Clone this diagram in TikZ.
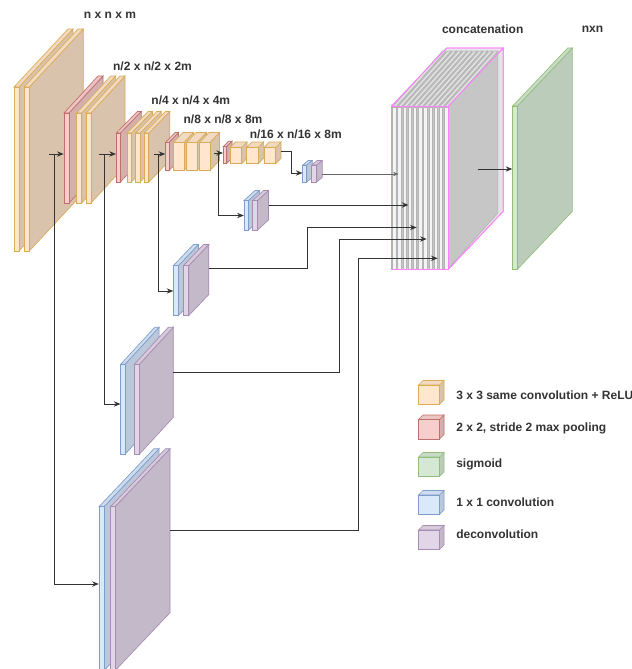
\documentclass[tikz,border=0pt]{standalone}
\usepackage{fontspec}
\setmainfont{Liberation Sans}
\usetikzlibrary{arrows.meta}
% colours
\definecolor{yfill}{HTML}{FFE6CC}\definecolor{yline}{HTML}{D9AC55}
\colorlet{yside}{yfill!85!black}\colorlet{ytop}{yfill!95!black}
\definecolor{rfill}{HTML}{F8CECC}\definecolor{rline}{HTML}{C0706C}
\colorlet{rside}{rfill!85!black}\colorlet{rtop}{rfill!95!black}
\definecolor{gfill}{HTML}{D5E8D4}\definecolor{gline}{HTML}{93BE7A}
\colorlet{gside}{gfill!88!black}\colorlet{gtop}{gfill!95!black}
\definecolor{bfill}{HTML}{DAE8FC}\definecolor{bline}{HTML}{7E9DCB}
\colorlet{bside}{bfill!86!black}\colorlet{btop}{bfill!95!black}
\definecolor{pfill}{HTML}{E1D5E7}\definecolor{pline}{HTML}{A68BB3}
\colorlet{pside}{pfill!87!black}\colorlet{ptop}{pfill!95!black}
\definecolor{sfill}{HTML}{F4F4F4}\definecolor{sline}{HTML}{B4B4B4}
\definecolor{sside}{HTML}{C6C6C6}\definecolor{stop}{HTML}{E2E2E2}
\definecolor{kfill}{HTML}{EDEDED}\definecolor{kline}{HTML}{FF7FFF}
\definecolor{kside}{HTML}{E4E4E4}\definecolor{ktop}{HTML}{E8E8E8}
\definecolor{txt}{HTML}{333333}
\definecolor{conncol}{HTML}{333333}
\tikzset{
  cubeline/.style={line width=0.5pt, line join=miter},
  conn/.style={draw=conncol, line width=0.75pt, -{Stealth[length=5pt,width=4pt]}},
  thinconn/.style={draw=conncol!75, line width=0.45pt, -{Stealth[length=4pt,width=3.2pt]}},
  lab/.style={font=\fontsize{9}{10}\selectfont\bfseries, text=txt, inner sep=0pt},
  legtext/.style={lab, anchor=west},
  pinkwire/.style={draw=kline, line width=0.6pt, line join=miter}
}
% cuboid: x y w h dx rise colourprefix (pixel units, y downwards)
\newcommand{\cub}[7]{%
  \filldraw[fill=#7side,draw=#7line,cubeline] (#1+#3,#2) -- (#1+#3+#5,#2-#6) -- (#1+#3+#5,#2-#6+#4) -- (#1+#3,#2+#4) -- cycle;
  \filldraw[fill=#7top,draw=#7line,cubeline] (#1,#2) -- (#1+#5,#2-#6) -- (#1+#3+#5,#2-#6) -- (#1+#3,#2) -- cycle;
  \filldraw[fill=#7fill,draw=#7line,cubeline] (#1,#2) rectangle (#1+#3,#2+#4);
}
\newcommand{\cubwire}[6]{%
  \draw[pinkwire] (#1,#2) rectangle (#1+#3,#2+#4);
  \draw[pinkwire] (#1,#2) -- (#1+#5,#2-#6) -- (#1+#3+#5,#2-#6) -- (#1+#3,#2);
  \draw[pinkwire] (#1+#3+#5,#2-#6) -- (#1+#3+#5,#2-#6+#4) -- (#1+#3,#2+#4);
}
\begin{document}
\begin{tikzpicture}[x=0.75pt,y=-0.75pt]
\useasboundingbox (0,0) rectangle (632,669);
\fill[white] (0,0) rectangle (632,669);

% ---- encoder stacks ----
% stack 1
\cub{14}{87}{5}{164}{54}{58}{y}
\cub{24}{87}{5.3}{164}{54}{58}{y}
% stack 2
\cub{64}{113}{5}{90}{34}{37}{r}
\cub{76.7}{113}{5}{90}{34}{37}{y}
\cub{86}{113}{5}{90}{34}{37}{y}
% stack 3
\cub{116.3}{133}{4}{49}{21}{21.5}{r}
\cub{127}{133}{4.5}{49}{21}{21.5}{y}
\cub{135.7}{133}{4.5}{49}{21}{21.5}{y}
\cub{144.3}{133}{4.5}{49}{21}{21.5}{y}
% stack 4
\cub{165.5}{142.5}{3.5}{28}{9.5}{10}{r}
\cub{173.5}{142.5}{10.5}{28}{9.5}{10}{y}
\cub{186.5}{142.5}{10.5}{28}{9.5}{10}{y}
\cub{199.5}{142.5}{10.5}{28}{9.5}{10}{y}
% stack 5
\cub{223.3}{146.5}{3.4}{17}{5.3}{5.3}{r}
\cub{230}{147.3}{11.7}{16.3}{5.3}{5.3}{y}
\cub{246.6}{147.3}{11.7}{16.3}{5.3}{5.3}{y}
\cub{264}{147.3}{11.7}{16.3}{5.3}{5.3}{y}

% ---- decoder branches ----
% stack 6
\cub{302.7}{165}{4}{17}{5.5}{4.5}{b}
\cub{311.7}{165}{5}{17}{5.5}{4.5}{p}
% stack 7
\cub{244}{200.5}{4.5}{29.5}{11}{10}{b}
\cub{252.5}{200.5}{5}{29.5}{11}{10}{p}
% stack 8
\cub{173.5}{265.5}{5}{50}{20}{21}{b}
\cub{183.5}{265.5}{5.3}{50}{20}{21}{p}
% stack 9
\cub{120.7}{364.3}{4.3}{90}{34}{37}{b}
\cub{134.3}{364.3}{5}{90}{34}{37}{p}
% stack 10
\cub{99}{506.7}{5}{164}{55}{58}{b}
\cub{110.5}{506.7}{4.5}{164}{55}{58}{p}

% ---- concatenation block ----
\cub{391.7}{106}{56.6}{163.3}{55}{58}{k}
\foreach \i in {0,...,10}{%
  \pgfmathsetmacro{\xx}{392.5+5.2*\i}
  \cub{\xx}{107}{3.4}{162}{50}{56}{s}
}
\cubwire{391.7}{106}{56.6}{163.3}{55}{58}

% ---- sigmoid output ----
\cub{512.7}{106}{4.7}{163.3}{55}{58}{g}

% ---- labels ----
\node[lab] (l1) at (110,15.7) {n x n x m};
\node[lab] (l2) at (152.5,66.7) {n/2 x n/2 x 2m};
\node[lab] (l3) at (190.8,100) {n/4 x n/4 x 4m};
\node[lab] (l4) at (223,119) {n/8 x n/8 x 8m};
\node[lab] (l5) at (295.8,134.3) {n/16 x n/16 x 8m};
\node[lab] (l6) at (482.7,29.3) {concatenation};
\node[lab] (l7) at (592.5,29.3) {nxn};

% ---- connector end points ----
\coordinate (a1s) at (49,154);   \coordinate (a1e) at (63.7,154);
\coordinate (a2s) at (99,154);   \coordinate (a2e) at (116,154);
\coordinate (a3s) at (153.5,154);\coordinate (a3e) at (165.3,154);
\coordinate (a4s) at (214,153);  \coordinate (a4e) at (223,153);
\coordinate (a5s) at (281,151);  \coordinate (a5k) at (291.5,173); \coordinate (a5e) at (302.5,173);
\coordinate (b1s) at (54,154);   \coordinate (b1e) at (98.8,584);
\coordinate (b2s) at (104,154);  \coordinate (b2e) at (120.5,404);
\coordinate (b3s) at (158.5,154);\coordinate (b3e) at (173.3,291);
\coordinate (b4s) at (218.3,153);\coordinate (b4e) at (243.8,215.5);
\coordinate (c6s) at (322.2,174);\coordinate (c6e) at (398.5,174);
\coordinate (c7s) at (268.5,205);\coordinate (c7e) at (408.5,205);
\coordinate (c8s) at (208.8,268.5);\coordinate (c8k) at (307.7,227.5);\coordinate (c8e) at (416.7,227.5);
\coordinate (c9s) at (173.3,372.3);\coordinate (c9k) at (339,239);\coordinate (c9e) at (426.7,239);
\coordinate (c10s) at (170,530); \coordinate (c10k) at (358.3,258.3);\coordinate (c10e) at (437.7,258.3);
\coordinate (os) at (477.7,169);  \coordinate (oe) at (512.3,169);

% ---- connectors ----
\draw[conn] (a1s) -- (a1e);
\draw[conn] (a2s) -- (a2e);
\draw[conn] (a3s) -- (a3e);
\draw[conn] (a4s) -- (a4e);
\draw[conn] (a5s) -| (a5k) -- (a5e);
\draw[conn] (b1s) |- (b1e);
\draw[conn] (b2s) |- (b2e);
\draw[conn] (b3s) |- (b3e);
\draw[conn] (b4s) |- (b4e);
\draw[thinconn] (c6s) -- (c6e);
\draw[conn] (c7s) -- (c7e);
\draw[conn] (c8s) -| (c8k) -- (c8e);
\draw[conn] (c9s) -| (c9k) -- (c9e);
\draw[conn] (c10s) -| (c10k) -- (c10e);
\draw[conn] (os) -- (oe);

% ---- legend ----
\cub{418.5}{385}{21}{19.5}{4.5}{4.5}{y}
\cub{418.5}{419.5}{21}{19.5}{4.5}{4.5}{r}
\cub{418.5}{457}{21}{19.5}{4.5}{4.5}{g}
\cub{418.5}{495}{21}{19.5}{4.5}{4.5}{b}
\cub{418.5}{530}{21}{19.5}{4.5}{4.5}{p}
\node[legtext] (g1) at (456,395) {3 x 3 same convolution + ReLU};
\node[legtext] (g2) at (456,428.3) {2 x 2, stride 2 max pooling};
\node[legtext] (g3) at (456,464.3) {sigmoid};
\node[legtext] (g4) at (456,502.7) {1 x 1 convolution};
\node[legtext] (g5) at (456,534) {deconvolution};
\end{tikzpicture}
\end{document}
